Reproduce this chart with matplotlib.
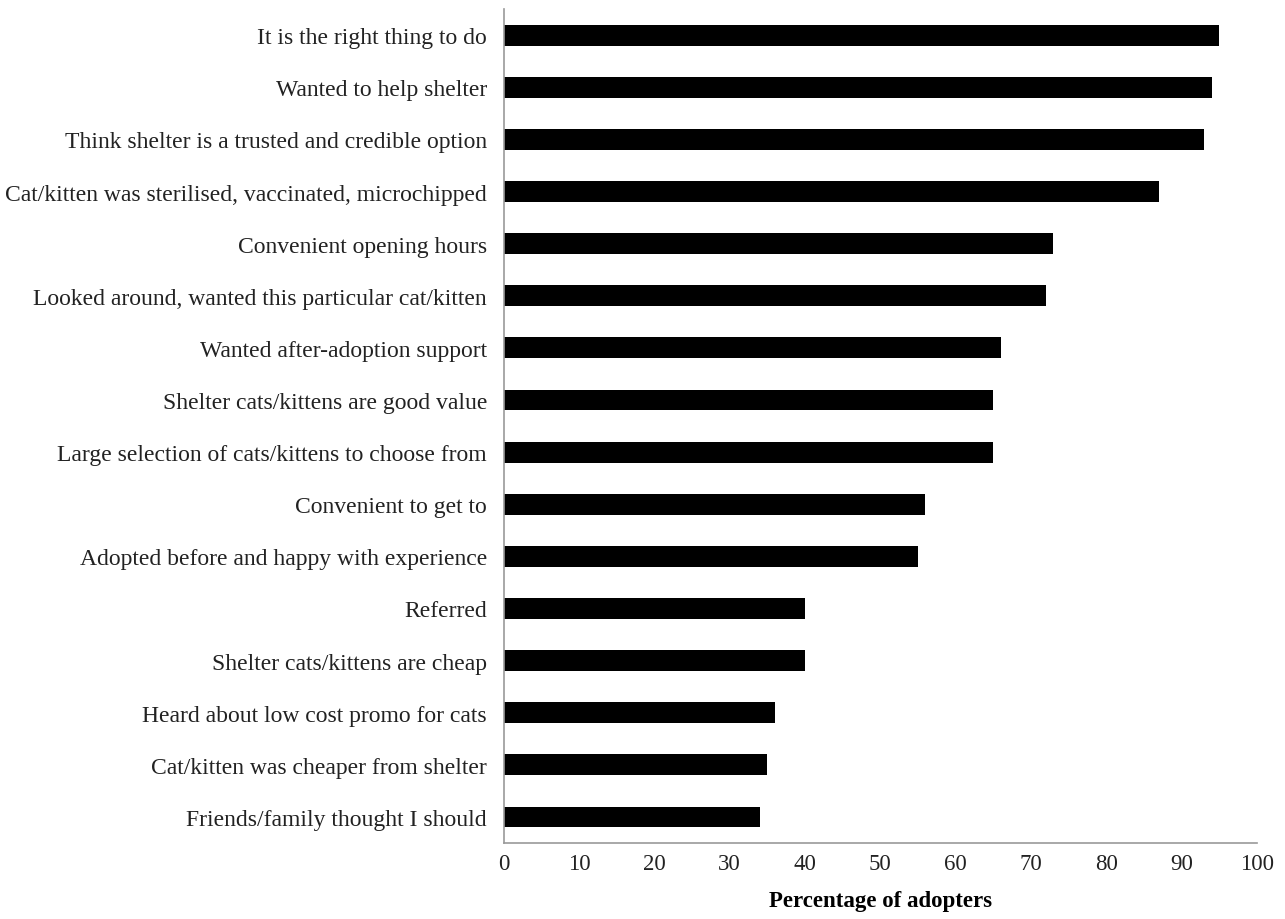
import matplotlib
matplotlib.use("Agg")
import numpy as np
from matplotlib import pyplot as plt

plt.rcParams['font.family'] = ['Liberation Serif', 'DejaVu Serif']

reasons = [
    "It is the right thing to do",
    "Wanted to help shelter",
    "Think shelter is a trusted and credible option",
    "Cat/kitten was sterilised, vaccinated, microchipped",
    "Convenient opening hours",
    "Looked around, wanted this particular cat/kitten",
    "Wanted after-adoption support",
    "Shelter cats/kittens are good value",
    "Large selection of cats/kittens to choose from",
    "Convenient to get to",
    "Adopted before and happy with experience",
    "Referred",
    "Shelter cats/kittens are cheap",
    "Heard about low cost promo for cats",
    "Cat/kitten was cheaper from shelter",
    "Friends/family thought I should",
]
percent = [95, 94, 93, 87, 73, 72, 66, 65, 65, 56, 55, 40, 40, 36, 35, 34]
xticks = list(range(0, 101, 10))

fig = plt.figure(figsize=(12.85, 9.2), dpi=100)
ax = fig.add_axes([0.392, 0.0826, 0.586, 0.9064])

y = np.arange(len(reasons))
ax.barh(y, percent, height=0.4, color='black')
ax.set_ylim(len(reasons) - 0.5, -0.5)
ax.set_xlim(0, 100)
ax.set_yticks(y)
ax.set_yticklabels(reasons, fontsize=17, color='#222222')
ax.set_xticks(xticks)
ax.set_xticklabels([str(t) for t in xticks], fontsize=16.5, color='#222222')
ax.tick_params(axis='both', length=0)
ax.tick_params(axis='y', pad=12)
ax.tick_params(axis='x', pad=7.5)

for s in ['top', 'right']:
    ax.spines[s].set_visible(False)
for s in ['left', 'bottom']:
    ax.spines[s].set_color('#999999')
    ax.spines[s].set_linewidth(1.2)

ax.set_xlabel('Percentage of adopters', fontsize=16.5, fontweight='bold', labelpad=11)

fig.savefig('out.png', dpi=100)
